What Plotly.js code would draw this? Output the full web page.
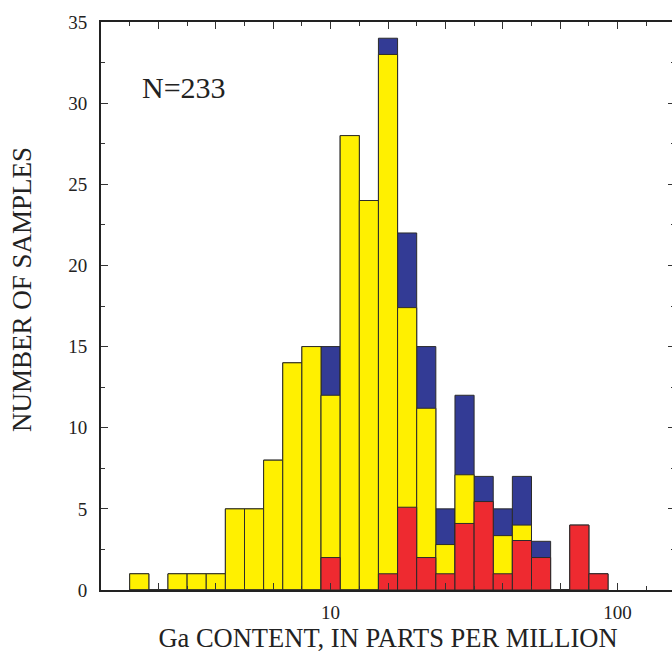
<!DOCTYPE html>
<html>
<head>
<meta charset="utf-8">
<script src="https://cdn.plot.ly/plotly-3.0.1.min.js"></script>
<style>
html,body{margin:0;padding:0;overflow:hidden;background:#fff;}
#chart{width:675px;height:656px;}
</style>
</head>
<body>
<div id="chart"></div>
<script>
// Histogram bins: log10(ppm) bins of width 1/15 decade starting at log10 = 0.3
const binStartLog = 0.3;
const binStepLog = 1 / 15;
// counts per bin (25 bins)
const totalCounts  = [1,0,1,1,1,5,5,8,14,15,15,28,24,34,22,15,5,12,7,5,7,3,0,4,1];
const yellowCounts = [1,0,1,1,1,5,5,8,14,15,12,28,24,33,17.4,11.2,2.8,7.1,0,3.35,4,0,0,0,0];
const redCounts    = [0,0,0,0,0,0,0,0,0,0,2,0,0,1,5.1,2,1,4.1,5.45,1,3.05,2,0,4,1];
const sampleLabel = "N=233";
const xTitle = "Ga CONTENT, IN PARTS PER MILLION";
const yTitle = "NUMBER OF SAMPLES";
const xTickLabels = {1: "10", 2: "100"};

const binLo = totalCounts.map((_, k) => Math.pow(10, binStartLog + k * binStepLog));
const binHi = totalCounts.map((_, k) => Math.pow(10, binStartLog + (k + 1) * binStepLog));
const binMid = binLo.map((lo, k) => (lo + binHi[k]) / 2);
const binWidth = binLo.map((lo, k) => binHi[k] - lo);

function barTrace(vals, color, name) {
  return {
    type: "bar",
    x: binMid,
    y: vals,
    width: binWidth,
    name: name,
    marker: {color: color, line: {color: "#2b2b2b", width: 1}},
    hoverinfo: "x+y"
  };
}

const majorVals = [], majorText = [], minorVals = [];
for (let i = 1; i <= 11; i++) {
  const lg = i * 0.2;
  majorVals.push(Math.pow(10, lg));
  const key = Math.round(lg * 10) / 10;
  majorText.push(xTickLabels[key] || "");
}
for (let i = 3; i <= 21; i += 2) minorVals.push(Math.pow(10, i / 10));

const serif = "Liberation Serif, Times New Roman, serif";

const data = [
  barTrace(totalCounts, "#333b95", "total"),
  barTrace(yellowCounts, "#fff000", "yellow"),
  barTrace(redCounts, "#ee2a30", "red")
];

const layout = {
  width: 675, height: 656,
  margin: {l: 101, r: 0, t: 22, b: 66},
  paper_bgcolor: "#fff", plot_bgcolor: "#fff",
  barmode: "overlay",
  bargap: 0,
  showlegend: false,
  font: {family: serif, color: "#222"},
  xaxis: {
    type: "log",
    range: [0.2, 2.2],
    tickmode: "array",
    tickvals: majorVals,
    ticktext: majorText,
    ticks: "inside", ticklen: 7, tickwidth: 1, tickcolor: "#333",
    minor: {tickmode: "array", tickvals: minorVals, ticks: "inside", ticklen: 4, tickwidth: 1, tickcolor: "#333", showgrid: false},
    showline: true, linewidth: 2, linecolor: "#222",
    mirror: "allticks",
    showgrid: false, zeroline: false,
    tickfont: {family: serif, size: 19, color: "#222"},
    ticklabelstandoff: 4,
    title: {text: xTitle, font: {family: serif, size: 26.5, color: "#222"}, standoff: 6}
  },
  yaxis: {
    range: [0, 35],
    tickmode: "linear", tick0: 0, dtick: 5,
    ticks: "inside", ticklen: 7, tickwidth: 1, tickcolor: "#333",
    minor: {tick0: 0, dtick: 2.5, ticks: "inside", ticklen: 4, tickwidth: 1, tickcolor: "#333", showgrid: false},
    showline: true, linewidth: 2, linecolor: "#222",
    mirror: "allticks",
    showgrid: false, zeroline: false,
    tickfont: {family: serif, size: 19, color: "#222"},
    ticklabelstandoff: 8
  },
  annotations: [{
    xref: "paper", yref: "paper",
    x: 0.145, y: 0.884, xanchor: "center", yanchor: "middle",
    text: sampleLabel, showarrow: false,
    font: {family: serif, size: 30, color: "#222"}
  }, {
    xref: "paper", yref: "paper",
    x: -0.1376, y: 0.528, xanchor: "center", yanchor: "middle",
    text: yTitle, textangle: -90, showarrow: false,
    font: {family: serif, size: 27, color: "#222"}
  }]
};

Plotly.newPlot("chart", data, layout, {displayModeBar: false, staticPlot: true});
</script>
</body>
</html>
